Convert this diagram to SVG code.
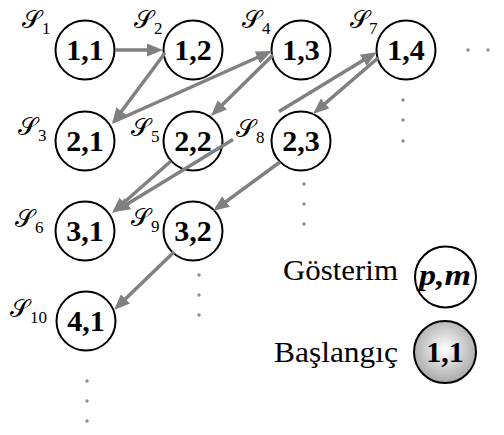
<svg xmlns="http://www.w3.org/2000/svg" width="504" height="435" viewBox="0 0 504 435">
<style>
.node{fill:#fff;stroke:#000;stroke-width:2}
.num{font-weight:bold;font-size:30px;text-anchor:middle;fill:#000}
.lab{font-size:25px;fill:#000}
.sub{font-size:17px;font-style:normal}
.edge{stroke:#808080;stroke-width:3.5;fill:none}
.dot{fill:#8c8c8c}
.leg{font-size:29px;fill:#000}
</style>
<defs>
<marker id="ah" markerUnits="userSpaceOnUse" markerWidth="17" markerHeight="14" refX="11" refY="6.5" orient="auto-start-reverse" viewBox="0 0 17 14">
<path d="M0,0 L16,6.5 L0,13 z" fill="#808080"/>
</marker>
<radialGradient id="g" cx="0.5" cy="0.45" r="0.55">
<stop offset="0" stop-color="#ffffff"/>
<stop offset="1" stop-color="#a8a8a8"/>
</radialGradient>
</defs>

<g font-family="Liberation Serif, Times New Roman, serif">
<g id="n11"><circle class="node" cx="85" cy="50" r="29.5"/><text class="num" x="85" y="60">1,1</text>
<text class="lab" x="22" y="28">𝒮<tspan class="sub" x="42" y="34">1</tspan></text></g>
<g id="n12"><circle class="node" cx="193" cy="50" r="29.5"/><text class="num" x="193" y="60">1,2</text>
<text class="lab" x="134" y="28">𝒮<tspan class="sub" x="154" y="34">2</tspan></text></g>
<g id="n13"><circle class="node" cx="301" cy="50" r="29.5"/><text class="num" x="301" y="60">1,3</text>
<text class="lab" x="242" y="28">𝒮<tspan class="sub" x="262" y="34">4</tspan></text></g>
<g id="n14"><circle class="node" cx="406" cy="50" r="29.5"/><text class="num" x="406" y="60">1,4</text>
<text class="lab" x="350" y="28">𝒮<tspan class="sub" x="369" y="34">7</tspan></text></g>
<g id="n21"><circle class="node" cx="85" cy="141" r="29.5"/><text class="num" x="85" y="151">2,1</text>
<text class="lab" x="18" y="135">𝒮<tspan class="sub" x="38" y="141">3</tspan></text></g>
<g id="n22"><circle class="node" cx="193" cy="141" r="29.5"/><text class="num" x="193" y="151">2,2</text>
<text class="lab" x="131" y="136">𝒮<tspan class="sub" x="151" y="142">5</tspan></text></g>
<g id="n23"><circle class="node" cx="301" cy="141" r="29.5"/><text class="num" x="301" y="151">2,3</text>
<text class="lab" x="236" y="137">𝒮<tspan class="sub" x="256" y="143">8</tspan></text></g>
<g id="n31"><circle class="node" cx="85" cy="231" r="29.5"/><text class="num" x="85" y="241">3,1</text>
<text class="lab" x="15" y="227">𝒮<tspan class="sub" x="35" y="233">6</tspan></text></g>
<g id="n32"><circle class="node" cx="193" cy="231" r="29.5"/><text class="num" x="193" y="241">3,2</text>
<text class="lab" x="131" y="226">𝒮<tspan class="sub" x="151" y="232">9</tspan></text></g>
<g id="n41"><circle class="node" cx="86" cy="321" r="29.5"/><text class="num" x="86" y="331">4,1</text>
<text class="lab" x="10" y="317">𝒮<tspan class="sub" x="30" y="323">10</tspan></text></g>
</g>

<g id="connectors">
<line class="edge" x1="115" y1="50" x2="158" y2="50" marker-end="url(#ah)"/>
<line class="edge" x1="165" y1="53" x2="115" y2="120" marker-end="url(#ah)"/>
<line class="edge" x1="113" y1="122" x2="267.4" y2="53" marker-end="url(#ah)"/>
<line class="edge" x1="273" y1="55" x2="214.5" y2="112.5" marker-end="url(#ah)"/>
<line class="edge" x1="171" y1="161" x2="115.7" y2="209.7" marker-end="url(#ah)"/>
<line class="edge" x1="233" y1="139.6" x2="118.3" y2="209.4" marker-end="url(#ah)"/>
<line class="edge" x1="279" y1="111.6" x2="372.7" y2="54.6" marker-end="url(#ah)"/>
<line class="edge" x1="378" y1="58" x2="316.8" y2="110.7" marker-end="url(#ah)"/>
<line class="edge" x1="280" y1="162" x2="217.1" y2="208.1" marker-end="url(#ah)"/>
<line class="edge" x1="174" y1="252" x2="117.6" y2="306.5" marker-end="url(#ah)"/>
</g>

<g id="dots">
<circle class="dot" cx="468" cy="50" r="1.7"/><circle class="dot" cx="488" cy="50" r="1.7"/>
<circle class="dot" cx="403" cy="100" r="1.7"/><circle class="dot" cx="403" cy="120" r="1.7"/><circle class="dot" cx="403" cy="141" r="1.7"/>
<circle class="dot" cx="304" cy="184" r="1.7"/><circle class="dot" cx="304" cy="204" r="1.7"/><circle class="dot" cx="304" cy="224" r="1.7"/>
<circle class="dot" cx="199" cy="275" r="1.7"/><circle class="dot" cx="199" cy="295" r="1.7"/><circle class="dot" cx="199" cy="315" r="1.7"/>
<circle class="dot" cx="87" cy="381" r="1.7"/><circle class="dot" cx="87" cy="401" r="1.7"/><circle class="dot" cx="87" cy="421" r="1.7"/>
</g>

<g font-family="Liberation Serif, Times New Roman, serif">
<g id="legend-notation">
<text class="leg" x="283" y="280" textLength="115" lengthAdjust="spacingAndGlyphs">Gösterim</text>
<circle class="node" cx="445.5" cy="277" r="30.5"/>
<text class="num" x="445" y="285" font-style="italic" textLength="52" lengthAdjust="spacingAndGlyphs">p,m</text>
</g>
<g id="legend-start">
<text class="leg" x="274" y="362" textLength="124" lengthAdjust="spacingAndGlyphs">Başlangıç</text>
<circle cx="445" cy="352" r="31" fill="url(#g)" stroke="#000" stroke-width="2"/>
<text class="num" x="445" y="362">1,1</text>
</g>
</g>
</svg>
